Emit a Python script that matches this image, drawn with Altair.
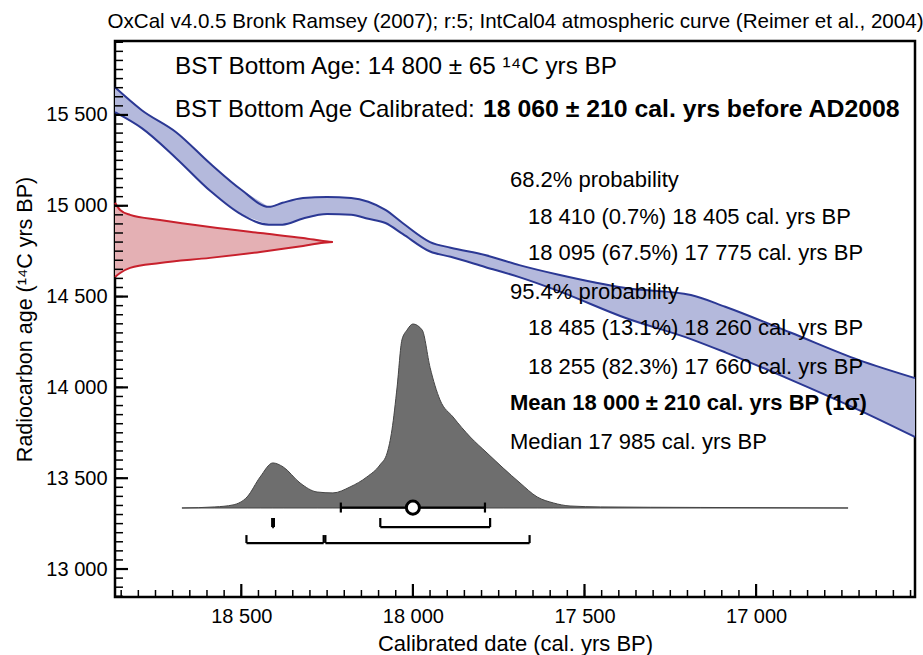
import altair as alt
import pandas as pd

# ---------------- data ----------------
# IntCal04 calibration band (cal. yrs BP -> 14C age, upper and lower edge)
cal_x   = [18868, 18790, 18690, 18590, 18500, 18420, 18380, 18320, 18250, 18180,
           18130, 18080, 18030, 17950, 17890, 17790, 17690, 17575, 17380, 17190,
           17090, 16900, 16700, 16537]
cal_top = [15652, 15526, 15405, 15231, 15088, 14994, 15016, 15042, 15048, 15043,
           15022, 14977, 14905, 14800, 14769, 14729, 14673, 14620, 14547, 14509,
           14444, 14302, 14150, 14051]
cal_bot = [15515, 15427, 15262, 15081, 14952, 14896, 14896, 14930, 14954, 14951,
           14928, 14905, 14845, 14748, 14719, 14663, 14607, 14530, 14382, 14266,
           14193, 14043, 13875, 13727]

# measured radiocarbon age distribution (14 800 +/- 65), drawn against the y axis
c14_age = [15016, 14977, 14950, 14922, 14883, 14850, 14823, 14801,
           14779, 14746, 14713, 14685, 14658, 14630, 14608]
c14_ext = [18868, 18853, 18824, 18737, 18591, 18445, 18320, 18233,
           18320, 18445, 18591, 18737, 18824, 18853, 18868]

# calibrated probability distribution
prob_x = [18673, 18577, 18524, 18483, 18445, 18408, 18378, 18329, 18279, 18233,
          18183, 18134, 18096, 18075, 18061, 18046, 18032, 18017, 18000, 17973,
          17950, 17921, 17883, 17833, 17784, 17737, 17688, 17638, 17591, 17542,
          17454, 17163, 16732]
prob_y = [13336, 13342, 13353, 13397, 13507, 13584, 13562, 13474, 13424, 13419,
          13452, 13507, 13573, 13639, 13766, 14002, 14261, 14316, 14349, 14316,
          14110, 13931, 13837, 13727, 13639, 13556, 13474, 13397, 13364, 13347,
          13342, 13339, 13336]
prob_base = 13336

mean_cal, sd_cal = 18000, 210
ranges_68 = [(18410, 18405), (18095, 17775)]
ranges_95 = [(18485, 18260), (18255, 17660)]

x_major = [18500, 18000, 17500, 17000]
y_major = [13000, 13500, 14000, 14500, 15000, 15500]
x_minor = list(range(18850, 16549, -50))
y_minor = list(range(12850, 15901, 50))

X_DOM = [16537, 18868]
Y_DOM = [12846, 15907]

# ---------------- layout / style ----------------
W, H = 800, 556
FONT = "Liberation Sans"
BAND_FILL = "#b4b9dc"
BAND_LINE = "#2b3894"
RED_FILL = "#e4b0b4"
RED_LINE = "#c8202c"
GREY = "#6e6e6e"

lvl_mean, lvl_mean_lo, lvl_mean_hi = 13338, 13311, 13366
lvl_68, lvl_68_top = 13231, 13281
lvl_95, lvl_95_top = 13143, 13187

xs = alt.Scale(domain=X_DOM, reverse=True, nice=False, zero=False)
ys = alt.Scale(domain=Y_DOM, nice=False, zero=False)
sep = "replace(format(datum.value, ','), ',', ' ')"

ax_x = alt.Axis(values=x_major, labelExpr=sep, ticks=False, tickSize=0,
                domain=False, grid=False, labelFontSize=20, labelFont=FONT,
                labelColor="black", labelPadding=9,
                title="Calibrated date (cal. yrs BP)", titleFont=FONT,
                titleFontSize=22, titleFontWeight="normal", titleColor="black",
                titleY=36)
ax_y = alt.Axis(values=y_major, labelExpr=sep, ticks=False, tickSize=0,
                domain=False, grid=False, labelFontSize=20, labelFont=FONT,
                labelColor="black", labelPadding=8,
                title="Radiocarbon age (¹⁴C yrs BP)", titleFont=FONT,
                titleFontSize=21.5, titleFontWeight="normal", titleColor="black",
                titleX=-79, titleY=H / 2)


def X(field):
    return alt.X(field, scale=xs, axis=ax_x)


def Y(field):
    return alt.Y(field, scale=ys, axis=ax_y)


band_df = pd.DataFrame({"cal": cal_x, "top": cal_top, "bot": cal_bot})

band = alt.Chart(band_df).mark_area(color=BAND_FILL, opacity=1).encode(
    x=X("cal:Q"), y=Y("top:Q"), y2="bot:Q")
band_top = alt.Chart(band_df).mark_line(color=BAND_LINE, strokeWidth=2, interpolate="monotone").encode(
    x=X("cal:Q"), y=Y("top:Q"))
band_bot = alt.Chart(band_df).mark_line(color=BAND_LINE, strokeWidth=2, interpolate="monotone").encode(
    x=X("cal:Q"), y=Y("bot:Q"))

red_df = pd.DataFrame({"age": c14_age, "ext": c14_ext, "base": [X_DOM[1]] * len(c14_age)})
red_area = alt.Chart(red_df).mark_area(color=RED_FILL, opacity=1, orient="horizontal",
                                       interpolate="monotone").encode(
    y=Y("age:Q"), x=X("ext:Q"), x2="base:Q")
red_line = alt.Chart(red_df).mark_line(color=RED_LINE, strokeWidth=2, interpolate="monotone").encode(
    y=Y("age:Q"), x=X("ext:Q"), order="age:Q")

prob_df = pd.DataFrame({"cal": prob_x, "p": prob_y, "base": [prob_base] * len(prob_x)})
prob = alt.Chart(prob_df).mark_area(color=GREY, opacity=1, stroke="#444444", strokeWidth=1,
                                    interpolate="monotone").encode(
    x=X("cal:Q"), y=Y("p:Q"), y2="base:Q")

# brackets / error bars
h_rows, v_rows = [], []
h_rows.append({"a": mean_cal + sd_cal, "b": mean_cal - sd_cal, "y": lvl_mean})
v_rows += [{"x": mean_cal + sd_cal, "y1": lvl_mean_lo, "y2": lvl_mean_hi},
           {"x": mean_cal - sd_cal, "y1": lvl_mean_lo, "y2": lvl_mean_hi}]
for lvl, top, rng in [(lvl_68, lvl_68_top, ranges_68), (lvl_95, lvl_95_top, ranges_95)]:
    for a, b in rng:
        h_rows.append({"a": a, "b": b, "y": lvl})
        v_rows += [{"x": a, "y1": lvl, "y2": top}, {"x": b, "y1": lvl, "y2": top}]
h_df = pd.DataFrame(h_rows)
v_df = pd.DataFrame(v_rows)
hbars = alt.Chart(h_df).mark_rule(color="black", strokeWidth=2.2).encode(
    x=X("a:Q"), x2="b:Q", y=Y("y:Q"))
vbars = alt.Chart(v_df).mark_rule(color="black", strokeWidth=2.2).encode(
    x=X("x:Q"), y=Y("y1:Q"), y2="y2:Q")
mean_pt = alt.Chart(pd.DataFrame({"x": [mean_cal], "y": [lvl_mean]})).mark_point(
    shape="circle", filled=True, fill="white", stroke="black", strokeWidth=3, size=170, opacity=1
).encode(x=X("x:Q"), y=Y("y:Q"))


# inward axis ticks
def xticks(vals, length, sw):
    return alt.Chart(pd.DataFrame({"v": vals})).mark_rule(color="black", strokeWidth=sw).encode(
        x=X("v:Q"), y=alt.value(H - length), y2=alt.value(H))


def yticks(vals, length, sw):
    return alt.Chart(pd.DataFrame({"v": vals})).mark_rule(color="black", strokeWidth=sw).encode(
        y=Y("v:Q"), x=alt.value(0), x2=alt.value(length))


ticks = [xticks(x_minor, 7, 1.5), xticks(x_major, 13, 2.2),
         yticks(y_minor, 8, 1.5), yticks(y_major, 13, 2.2)]

# text annotations: (text, x, y, size, weight, align)
BST = 24
notes = [
    ("OxCal v4.0.5 Bronk Ramsey (2007); r:5; IntCal04 atmospheric curve (Reimer et al., 2004)",
     400.5, -19, 20.6, "normal", "center"),
    ("BST Bottom Age: 14 800 ± 65 ¹⁴C yrs BP", 60, 26, 24.3, "normal", "left"),
    ("BST Bottom Age Calibrated:", 60, 69, BST, "normal", "left"),
    ("18 060 ± 210 cal. yrs before AD2008", 368, 69, 24.8, "bold", "left"),
    ("68.2% probability", 395, 139, 22, "normal", "left"),
    ("18 410 (0.7%) 18 405 cal. yrs BP", 413, 176, 22, "normal", "left"),
    ("18 095 (67.5%) 17 775 cal. yrs BP", 413, 212, 22, "normal", "left"),
    ("95.4% probability", 395, 251, 22, "normal", "left"),
    ("18 485 (13.1%) 18 260 cal. yrs BP", 413, 287, 22, "normal", "left"),
    ("18 255 (82.3%) 17 660 cal. yrs BP", 413, 326, 22, "normal", "left"),
    ("Mean 18 000 ± 210 cal. yrs BP (1σ)", 395, 362, 22, "bold", "left"),
    ("Median 17 985 cal. yrs BP", 395, 401, 22, "normal", "left"),
]
text_layers = []
for t, x, y, s, w, a in notes:
    text_layers.append(alt.Chart(pd.DataFrame({"t": [t]})).mark_text(
        font=FONT, fontSize=s, fontWeight=w, align=a, baseline="middle", color="black"
    ).encode(x=alt.value(x), y=alt.value(y), text="t:N"))

chart = alt.layer(
    band, band_top, band_bot, red_area, red_line, prob, hbars, vbars, mean_pt,
    *ticks, *text_layers
).properties(
    width=W, height=H,
    padding={"left": 115, "top": 41, "right": 8, "bottom": 58},
    autosize=alt.AutoSizeParams(type="none"),
    background="white",
).configure_view(stroke="black", strokeWidth=2.5)

chart.save("out.html", embed_options={"renderer": "svg", "actions": False})
